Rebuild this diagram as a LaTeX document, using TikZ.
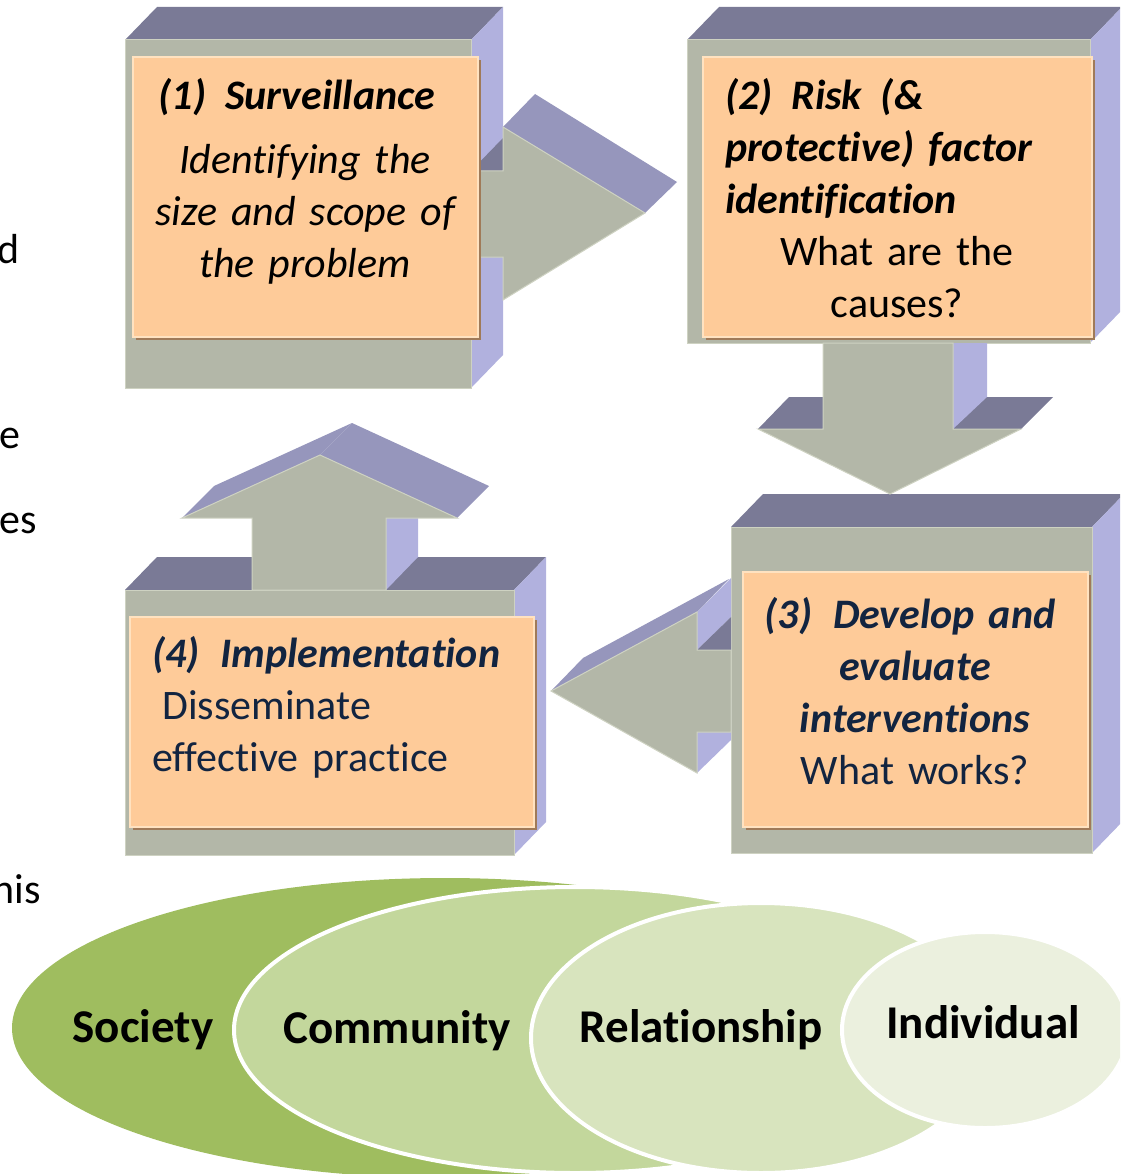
\documentclass[tikz,border=0pt]{standalone}
\usepackage{fontspec}
\setmainfont{Carlito}[Ligatures=NoCommon]
\usetikzlibrary{shadows}

\definecolor{blockfront}{RGB}{179,183,168}
\definecolor{blocktop}{RGB}{122,122,150}
\definecolor{blockside}{RGB}{177,177,222}
\definecolor{headtop}{RGB}{150,150,188}
\definecolor{blockedge}{RGB}{206,210,194}
\definecolor{cardfill}{RGB}{254,203,153}
\definecolor{cardrim}{RGB}{255,226,192}
\definecolor{cardshade}{RGB}{160,122,88}
\definecolor{stepnavy}{RGB}{18,36,64}
\definecolor{societygreen}{RGB}{159,189,95}
\definecolor{communitygreen}{RGB}{195,215,156}
\definecolor{relationgreen}{RGB}{216,228,190}
\definecolor{individualgreen}{RGB}{235,240,222}

% 3-D block: front face from (#1,#2) to (#3,#4), depth goes up-right
\newcommand{\blockcube}[4]{%
  \fill[topface] (#1,#2) -- (#1+32,#2-33) -- (#3+32,#2-33) -- (#3,#2) -- cycle;
  \fill[sideface] (#3,#2) -- (#3+32,#2-33) -- (#3+32,#4-33) -- (#3,#4) -- cycle;
  \filldraw[frontface] (#1,#2) rectangle (#3,#4);
}

\begin{document}
\begin{tikzpicture}[x=1pt, y=-1pt,
  frontface/.style={fill=blockfront, draw=blockedge, line width=1pt},
  topface/.style={fill=blocktop},
  sideface/.style={fill=blockside},
  headface/.style={fill=headtop},
  card/.style={fill=cardfill, draw=cardrim, line width=2pt, inner sep=0pt,
    drop shadow={shadow xshift=3pt, shadow yshift=-3pt, fill=cardshade, opacity=1}},
  steptext/.style={font=\fontsize{42}{52}\selectfont, inner sep=0pt, anchor=base},
  ring/.style={draw=white, line width=4pt},
  levellabel/.style={font=\fontsize{47}{56}\selectfont\bfseries, inner sep=0pt, anchor=base},
  cutword/.style={font=\fontsize{42}{52}\selectfont, inner sep=0pt, anchor=base east}]
\useasboundingbox (0,0) rectangle (1120,1174);
\clip (0,0) rectangle (1120,1174);

% words of the running text at the left margin
\node[cutword] (w1) at (20,263) {d};
\node[cutword] (w2) at (21,448) {e};
\node[cutword] (w3) at (37,533) {es};
\node[cutword] (w4) at (41,903) {his};

% blocks (2) and (3), arrow 2 -> 3
\blockcube{687}{40}{1090}{343}
\blockcube{731}{527}{1092}{853}
\fill[topface] (758,429) -- (789,397) -- (1053,397) -- (1021,429) -- cycle;
\fill[sideface] (953,343) -- (987,343) -- (987,397) -- (953,429) -- cycle;
\filldraw[frontface] (823,343) -- (953,343) -- (953,429) -- (1021,429) -- (890,494)
  -- (758,429) -- (823,429) -- cycle;

% arrow 3 -> 4
\fill[sideface] (697,612) -- (731,578) -- (731,617) -- (697,650) -- cycle;
\fill[sideface] (697,732) -- (731,698) -- (731,740) -- (697,773) -- cycle;
\fill[topface] (697,650) -- (731,617) -- (731,650) -- cycle;
\fill[headface] (551,691) -- (697,612) -- (729,579) -- (583,658) -- cycle;
\filldraw[frontface] (731,650) -- (697,650) -- (697,612) -- (551,691) -- (697,773)
  -- (697,732) -- (731,732) -- cycle;

% block (1), arrow 1 -> 2
\blockcube{125}{40}{471}{388}
\fill[topface] (471,171) -- (503,138) -- (503,171) -- cycle;
\fill[headface] (503,127) -- (535,94) -- (677,182) -- (645,213) -- cycle;
\filldraw[frontface] (471,171) -- (503,171) -- (503,127) -- (645,213) -- (503,300)
  -- (503,257) -- (471,257) -- cycle;

% block (4), arrow 4 -> 1
\blockcube{125}{590}{514}{855}
\fill[sideface] (386,590) -- (418,557) -- (418,486) -- (386,518) -- cycle;
\fill[headface] (182,518) -- (320,455) -- (352,423) -- (214,486) -- cycle;
\fill[headface] (320,455) -- (352,423) -- (489,486) -- (457,518) -- cycle;
\filldraw[frontface] (252,590) -- (252,518) -- (182,518) -- (320,455) -- (457,518)
  -- (386,518) -- (386,590) -- cycle;

% cards
\node[card, minimum width=345pt, minimum height=280pt] (card1) at (305.5,197) {};
\node[card, minimum width=389pt, minimum height=280pt] (card2) at (897.5,197) {};
\node[card, minimum width=345pt, minimum height=255pt] (card3) at (915.5,699.5) {};
\node[card, minimum width=404pt, minimum height=210pt] (card4) at (332,722) {};

\node[steptext, text width=330pt, align=center, font=\fontsize{42}{52}\selectfont\itshape] (txt1) at (305,110)
  {\hspace*{-16pt}\textbf{(1)\hspace{0.45em}Surveillance}\\[12pt] Identifying the\\ size and scope of\\ the problem};
\node[steptext, text width=344pt] (txt2) at (897,110)
  {{\raggedright\bfseries\itshape (2)\hspace{0.45em}Risk\hspace{0.45em}(\&\\
   protective) factor\\ identification\par}{\centering What are the\\ causes?\par}};
\node[steptext, text width=330pt, align=center, text=stepnavy] (txt3) at (915,628)
  {\hspace*{-10pt}\textbf{\textit{(3)\hspace{0.5em}Develop and}}\\ \textbf{\textit{evaluate}}\\
   \textbf{\textit{interventions}}\\ What works?};
\node[steptext, text width=370pt, align=left, text=stepnavy] (txt4) at (337,667)
  {\textbf{\textit{(4)\hspace{0.5em}Implementation}}\\ \hspace*{0.25em}Disseminate\\ effective practice};

% levels of the ecological model
\fill[societygreen] (445,1028) ellipse [x radius=433, y radius=150];
\filldraw[fill=communitygreen, ring] (575,1030) ellipse [x radius=341, y radius=143];
\filldraw[fill=relationgreen, ring] (761,1038) ellipse [x radius=230, y radius=135];
\filldraw[fill=individualgreen, ring] (985,1030) ellipse [x radius=143, y radius=98];

\node[levellabel] (society) at (143,1042) {Society};
\node[levellabel] (community) at (397,1043) {Community};
\node[levellabel] (relationship) at (701,1042) {Relationship};
\node[levellabel] (individual) at (983,1038) {Individual};
\end{tikzpicture}
\end{document}
